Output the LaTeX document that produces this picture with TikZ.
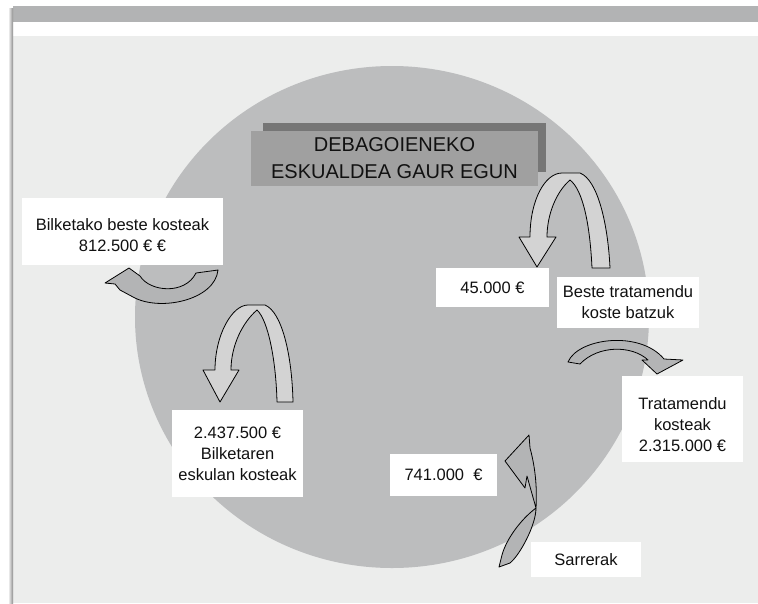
\documentclass[tikz,border=0pt]{standalone}
\usepackage{fontspec}
\setmainfont{Liberation Sans}
\definecolor{panel}{HTML}{ECEDEC}
\definecolor{topbar}{HTML}{B2B3B4}
\definecolor{circ}{HTML}{BCBDBE}
\definecolor{titlefront}{HTML}{A0A0A0}
\definecolor{titleshadow}{HTML}{767676}
\definecolor{arrlight}{HTML}{D3D3D3}
\definecolor{arrdark}{HTML}{B3B4B5}
\definecolor{ink}{HTML}{111111}
\begin{document}
\begin{tikzpicture}[x=1pt,y=-1pt,
  lbl/.style={fill=white,align=center,inner sep=0pt,text=ink,font=\fontsize{16.5}{21}\selectfont},
  lbltext/.style={align=center,inner sep=0pt,text=ink,font=\fontsize{16.5}{21}\selectfont},
  arrL/.style={fill=arrlight,draw=black,line width=0.8pt,line join=round},
  arrD/.style={fill=arrdark,draw=black,line width=0.8pt,line join=round}]
\useasboundingbox (0,0) rectangle (758,603);
\fill[white] (0,0) rectangle (758,603);
\fill[panel] (13,36) rectangle (758,603);
\fill[topbar] (13,6) rectangle (758,22);
\shade[left color=white,right color=black!45] (8,8) rectangle (13,603);
% big circle
\fill[circ] (392,317) ellipse [x radius=257, y radius=251];
% title box
\fill[titleshadow] (263,123) rectangle (546,172);
\node[fill=titlefront,minimum width=287pt,minimum height=55pt,inner sep=0pt,align=center,text=ink,
  font=\fontsize{20}{27}\selectfont] (title) at (394.5,158.5) {DEBAGOIENEKO\\ESKUALDEA GAUR EGUN};
% arrow A (left, curved)
\filldraw[arrD] (105,283) -- (129,268) -- (140,276) .. controls (150,292) and (185,295) .. (196,273)
  -- (218,270) .. controls (215,300) and (160,312) .. (133,297) -- (120,290) -- (115,284) -- cycle;
% arrow B (right of title)
\filldraw[arrL] (537,267) -- (519,237) -- (530,237) .. controls (530,200) and (545,173) .. (562,173)
  -- (580,173) .. controls (598,180) and (608,225) .. (610,268) -- (592,268)
  .. controls (590,225) and (583,190) .. (570,180) .. controls (556,192) and (547,215) .. (547,237)
  -- (556,237) -- cycle;
% arrow C (left middle)
\filldraw[arrL] (220,402) -- (203,370) -- (215,370) .. controls (215,335) and (232,305) .. (248,305)
  -- (265,305) .. controls (282,312) and (292,355) .. (293,402) -- (277,402)
  .. controls (276,360) and (268,320) .. (257,310) .. controls (243,322) and (231,345) .. (231,370)
  -- (239,370) -- cycle;
% arrow D (right middle)
\filldraw[arrD] (568,362) .. controls (578,338) and (640,330) .. (664,359) -- (683,360) -- (657,374)
  -- (642,360) -- (648,360) .. controls (632,345) and (598,345) .. (580,364) -- cycle;
% arrow E (Sarrerak, twisted)
\filldraw[arrD] (536,508) -- (527,476) -- (525,488) -- (505,461) -- (529,435) -- (530,448)
  .. controls (536,470) and (537,490) .. (536,508) -- cycle;
\filldraw[arrD] (536,508) .. controls (536,525) and (520,555) .. (510,563) -- (499,567)
  -- (502,555) .. controls (506,540) and (520,520) .. (536,508) -- cycle;
% labels
\node[fill=white,minimum width=201pt,minimum height=67pt,inner sep=0pt] (bilk) at (122.5,231.5) {};
\node[lbltext] (bilkT) at (122.5,235) {Bilketako beste kosteak\\812.500 € €};
\node[lbl,minimum width=113pt,minimum height=39pt] (b45) at (492.5,287.5) {45.000 €};
\node[lbl,minimum width=142pt,minimum height=51pt] (beste) at (628,302) {Beste tratamendu\\koste batzuk};
\node[fill=white,minimum width=121pt,minimum height=86pt,inner sep=0pt] (trat) at (682.5,419) {};
\node[lbltext] (tratT) at (682.5,425) {Tratamendu\\kosteak\\2.315.000 €};
\node[lbl,minimum width=131pt,minimum height=87pt] (eskul) at (237.5,453.5) {2.437.500 €\\Bilketaren\\eskulan kosteak};
\node[lbl,minimum width=107pt,minimum height=42pt] (b741) at (443.5,475) {741.000~~€};
\node[lbl,minimum width=110pt,minimum height=35pt] (sarr) at (586,559.5) {Sarrerak};
\end{tikzpicture}
\end{document}
